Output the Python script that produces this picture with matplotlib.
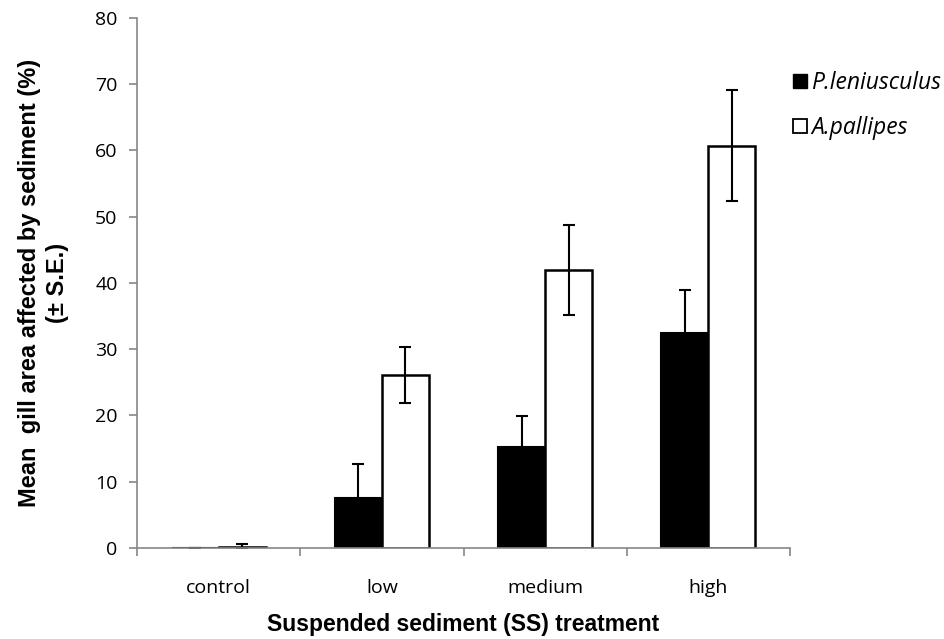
import numpy as np
import matplotlib
matplotlib.use('Agg')
import matplotlib.pyplot as plt
from matplotlib.lines import Line2D

# Data
treatments = ['control', 'low', 'medium', 'high']
pl_mean = [0.0, 7.6, 15.2, 32.4]     # P.leniusculus
pl_se = [0.05, 5.1, 4.7, 6.6]
ap_mean = [0.2, 26.1, 41.9, 60.7]    # A.pallipes
ap_se = [0.4, 4.2, 6.8, 8.4]

axis_grey = '#868686'

fig = plt.figure(figsize=(9.45, 6.39), dpi=100)
ax = fig.add_axes([0.145, 0.1424, 0.691, 0.8296])

x = np.arange(len(treatments))
w = 0.288
err_kw = dict(ecolor='black', elinewidth=1.5, capsize=4, capthick=1.5)

ax.bar(x - w / 2, pl_mean, w, yerr=pl_se, color='black', edgecolor='black',
       linewidth=1.5, error_kw=err_kw, zorder=2)
ax.bar(x + w / 2, ap_mean, w, yerr=ap_se, color='white', edgecolor='black',
       linewidth=1.8, error_kw=err_kw, zorder=2)

ax.set_xlim(-0.5, len(treatments) - 0.5)
ax.set_ylim(0, 80)
ax.set_yticks(range(0, 81, 10))

# category labels centered, tick marks on category boundaries
ax.set_xticks(x)
ax.set_xticklabels(treatments, fontsize=14, family='Open Sans')
ax.tick_params(axis='x', length=0, pad=22)
ax.set_xticks(np.arange(-0.5, len(treatments)), minor=True)
ax.tick_params(axis='x', which='minor', length=6, color=axis_grey, width=1.2)
ax.tick_params(axis='y', length=6, color=axis_grey, width=1.2, labelsize=14, pad=8)
for lab in ax.get_yticklabels():
    lab.set_family('Open Sans')

for s in ['top', 'right']:
    ax.spines[s].set_visible(False)
for s in ['left', 'bottom']:
    ax.spines[s].set_color(axis_grey)
    ax.spines[s].set_linewidth(1.2)

ax.set_xlabel('Suspended sediment (SS) treatment', fontsize=16.5, fontweight='bold',
              family='Liberation Sans', labelpad=12)
ax.set_ylabel('Mean  gill area affected by sediment (%)\n(± S.E.)', fontsize=17,
              fontweight='bold', family='Liberation Sans', linespacing=1.3)
ax.yaxis.set_label_coords(-0.104, 0.5)

handles = [
    Line2D([], [], marker='s', linestyle='none', markersize=10,
           markerfacecolor='black', markeredgecolor='black'),
    Line2D([], [], marker='s', linestyle='none', markersize=10,
           markerfacecolor='white', markeredgecolor='black', markeredgewidth=1.3),
]
fig.legend(handles, ['P.leniusculus', 'A.pallipes'], loc='upper left',
           bbox_to_anchor=(0.817, 0.921), frameon=False, handlelength=0.6,
           handletextpad=0.2, labelspacing=0.93,
           prop=dict(family='Open Sans', style='italic', size=16.5))

plt.savefig('out.png', dpi=100)
plt.close()
